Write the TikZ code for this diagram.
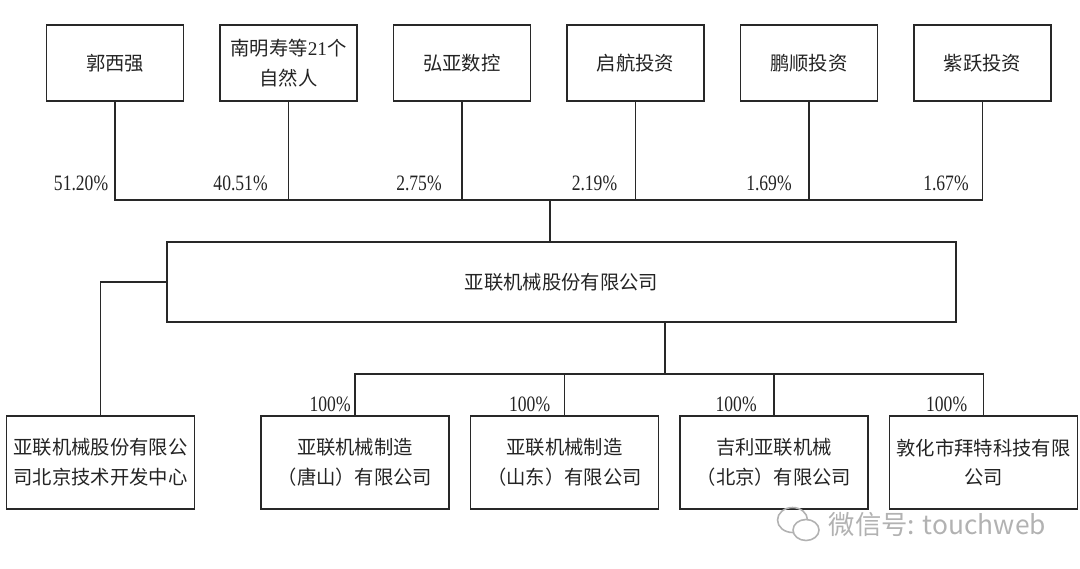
\documentclass[tikz,border=0pt]{standalone}
\usepackage{fontspec}
\setmainfont{Liberation Serif}
\newfontfamily\cjk{Noto Sans CJK SC}
\newfontfamily\numfont[FakeStretch=0.8]{Liberation Serif}
\usetikzlibrary{positioning, calc}
\definecolor{bLine}{RGB}{40, 40, 40}
\definecolor{tDark}{RGB}{35, 35, 35}
\definecolor{tMark}{RGB}{178, 178, 178}

\begin{document}
\begin{tikzpicture}[
    font=\fontsize{11}{17}\selectfont,
    node distance=0.7cm,
    block/.style={
        draw=bLine,
        line width=0.85pt,
        align=center,
        inner sep=2pt,
        text=tDark,
        font=\cjk\fontsize{11}{17}\selectfont
    },
    holder/.style={block, minimum width=2.74cm, minimum height=1.52cm},
    subco/.style={block, minimum width=3.76cm, minimum height=1.86cm},
    pct/.style={anchor=base east, inner sep=0pt, text=tDark, font=\numfont\fontsize{12.5}{14}\selectfont},
    link/.style={draw=bLine, line width=0.75pt}
]

\useasboundingbox (0,0) rectangle (21.6,-11.38);

% Shareholders
\node[holder] (guo) at (2.30,-1.26) {郭西强};
\node[holder, right=of guo] (nan) {南明寿等{\rmfamily 21}个\\自然人};
\node[holder, right=of nan] (hongya) {弘亚数控};
\node[holder, right=of hongya] (qihang) {启航投资};
\node[holder, right=of qihang] (pengshun) {鹏顺投资};
\node[holder, right=of pengshun] (ziyue) {紫跃投资};

% Company
\node[block, minimum width=15.78cm, minimum height=1.6cm] (yalian) at (11.23,-5.64) {亚联机械股份有限公司};

% Subsidiaries
\node[subco] (rdc) at (2.01,-9.25) {亚联机械股份有限公\\司北京技术开发中心};
\node[subco, right=1.3cm of rdc] (tangshan) {亚联机械制造\\（唐山）有限公司};
\node[subco, right=0.4cm of tangshan] (shandong) {亚联机械制造\\（山东）有限公司};
\node[subco, right=0.4cm of shandong] (jili) {吉利亚联机械\\（北京）有限公司};
\node[subco, right=0.4cm of jili] (dunhua) {敦化市拜特科技有限\\公司};

\coordinate (hub) at (11.0,-4.0);
\coordinate (split) at (13.3,-7.48);

\draw[link] (guo.south) |- (ziyue.south |- hub) -- (ziyue.south);
\draw[link] (nan.south) -- (nan.south |- hub);
\draw[link] (hongya.south) -- (hongya.south |- hub);
\draw[link] (qihang.south) -- (qihang.south |- hub);
\draw[link] (pengshun.south) -- (pengshun.south |- hub);
\draw[link] (hub) -- (hub |- yalian.north);

\draw[link] (yalian.west) -| (rdc.north);
\draw[link] (split |- yalian.south) -- (split);
\draw[link] (tangshan.north) |- (dunhua.north |- split) -- (dunhua.north);
\draw[link] (shandong.north) -- (shandong.north |- split);
\draw[link] (jili.north) -- (jili.north |- split);

% Shares
\node[pct] (p1) at (2.17,-3.82) {51.20\%};
\node[pct] (p2) at (5.36,-3.82) {40.51\%};
\node[pct] (p3) at (8.84,-3.82) {2.75\%};
\node[pct] (p4) at (12.35,-3.82) {2.19\%};
\node[pct] (p5) at (15.84,-3.82) {1.69\%};
\node[pct] (p6) at (19.38,-3.82) {1.67\%};

\node[pct] (s1) at (7.02,-8.22) {100\%};
\node[pct] (s2) at (11.01,-8.22) {100\%};
\node[pct] (s3) at (15.14,-8.22) {100\%};
\node[pct] (s4) at (19.35,-8.22) {100\%};

% Watermark
\draw[tMark, line width=0.9pt] (15.85,-10.4) ellipse (0.3 and 0.25);
\draw[tMark, line width=0.9pt, fill=white] (16.12,-10.6) ellipse (0.26 and 0.21);
\node[text=tMark, anchor=west, font=\cjk\fontsize{15}{18}\selectfont] (mark) at (16.45,-10.5) {微信号: touchweb};

\end{tikzpicture}
\end{document}
